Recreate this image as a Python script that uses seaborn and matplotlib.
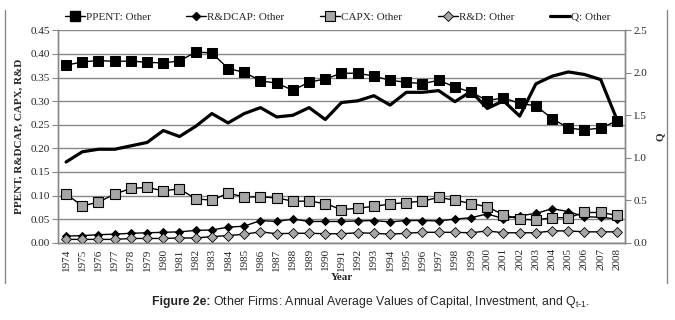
import numpy as np
import pandas as pd
import matplotlib
matplotlib.use("Agg")
import matplotlib.pyplot as plt
from matplotlib.lines import Line2D
from matplotlib.ticker import FixedLocator, NullFormatter
import seaborn as sns

# --- data ---
years = list(range(1974, 2009))

ppent = [0.376, 0.383, 0.386, 0.384, 0.385, 0.382, 0.381, 0.385, 0.404, 0.402,
         0.369, 0.361, 0.343, 0.338, 0.323, 0.340, 0.347, 0.359, 0.359, 0.353,
         0.344, 0.340, 0.337, 0.344, 0.330, 0.319, 0.301, 0.307, 0.295, 0.290,
         0.263, 0.243, 0.239, 0.243, 0.258]

rdcap = [0.014, 0.015, 0.017, 0.018, 0.020, 0.021, 0.022, 0.023, 0.026, 0.027,
         0.033, 0.035, 0.047, 0.045, 0.050, 0.045, 0.045, 0.045, 0.046, 0.047,
         0.044, 0.047, 0.047, 0.046, 0.050, 0.053, 0.061, 0.051, 0.057, 0.062,
         0.072, 0.066, 0.055, 0.054, 0.050]

capx = [0.103, 0.078, 0.086, 0.103, 0.115, 0.117, 0.110, 0.114, 0.093, 0.090,
        0.105, 0.097, 0.097, 0.095, 0.088, 0.088, 0.083, 0.070, 0.073, 0.077,
        0.082, 0.085, 0.088, 0.096, 0.090, 0.083, 0.076, 0.059, 0.050, 0.048,
        0.053, 0.053, 0.064, 0.064, 0.058]

rd = [0.007, 0.007, 0.007, 0.007, 0.009, 0.009, 0.009, 0.010, 0.010, 0.013,
      0.015, 0.018, 0.023, 0.019, 0.020, 0.020, 0.019, 0.019, 0.021, 0.020,
      0.018, 0.020, 0.022, 0.022, 0.022, 0.021, 0.025, 0.021, 0.021, 0.021,
      0.025, 0.025, 0.023, 0.023, 0.023]

q = [0.95, 1.07, 1.10, 1.10, 1.14, 1.18, 1.32, 1.25, 1.37, 1.52,
     1.41, 1.52, 1.59, 1.48, 1.50, 1.59, 1.45, 1.65, 1.67, 1.73,
     1.62, 1.77, 1.77, 1.79, 1.66, 1.78, 1.58, 1.67, 1.49, 1.87,
     1.96, 2.01, 1.98, 1.92, 1.45]

df = pd.DataFrame({"Year": years, "PPENT": ppent, "R&DCAP": rdcap,
                   "CAPX": capx, "R&D": rd, "Q": q})

# --- figure ---
sns.set_style("white")
plt.rcParams["font.family"] = ["Liberation Serif", "DejaVu Serif"]

fig = plt.figure(figsize=(6.75, 3.2), dpi=100)
ax = fig.add_axes([58 / 675, 1 - 242.7 / 320, (625 - 58) / 675, (242.7 - 30.3) / 320])
ax2 = ax.twinx()

grey = "#878787"
light = "#a6a6a6"

sns.lineplot(data=df, x="Year", y="PPENT", ax=ax, color="black", lw=1,
             marker="s", markersize=6.8, markerfacecolor="black",
             markeredgecolor="black", legend=False)
sns.lineplot(data=df, x="Year", y="R&DCAP", ax=ax, color="black", lw=1,
             marker="D", markersize=4.2, markerfacecolor="black",
             markeredgecolor="black", legend=False)
sns.lineplot(data=df, x="Year", y="CAPX", ax=ax, color="black", lw=1,
             marker="s", markersize=6.8, markerfacecolor=light,
             markeredgecolor="black", markeredgewidth=0.8, legend=False)
sns.lineplot(data=df, x="Year", y="R&D", ax=ax, color="black", lw=1,
             marker="D", markersize=4.8, markerfacecolor=light,
             markeredgecolor="black", markeredgewidth=0.6, legend=False)
sns.lineplot(data=df, x="Year", y="Q", ax=ax2, color="black", lw=2.3,
             legend=False)

# axes limits / ticks
ax.set_xlim(years[0] - 0.5, years[-1] + 0.5)
ax.set_ylim(0, 0.45)
ax2.set_ylim(0, 2.5)

left_ticks = np.arange(0, 0.451, 0.05)
right_ticks = np.arange(0, 2.51, 0.5)
ax.set_yticks(left_ticks)
ax.set_yticklabels([f"{v:.2f}" for v in left_ticks], fontsize=8)
ax2.set_yticks(right_ticks)
ax2.set_yticklabels([f"{v:.1f}" for v in right_ticks], fontsize=8)

ax.set_xticks(years)
ax.set_xticklabels([str(y) for y in years], rotation=90, fontsize=8)
ax.xaxis.set_minor_locator(FixedLocator([y - 0.5 for y in years] + [years[-1] + 0.5]))
ax.xaxis.set_minor_formatter(NullFormatter())
ax.tick_params(axis="x", which="major", length=0, pad=4)
ax.tick_params(axis="x", which="minor", length=4, color=grey, direction="out")
ax.tick_params(axis="y", length=4, color=grey, direction="out", pad=2, left=True)
ax2.tick_params(axis="y", length=4, color=grey, direction="out", pad=2, right=True)

ax.grid(axis="y", color=grey, lw=1)
ax.set_axisbelow(True)
for a in (ax, ax2):
    a.spines["top"].set_visible(False)
    for s in ("left", "right", "bottom"):
        a.spines[s].set_color(grey)
        a.spines[s].set_linewidth(1)

ax.set_xlabel("Year", fontsize=8, fontweight="bold", labelpad=2)
ax.set_ylabel("PPENT, R&DCAP, CAPX, R&D", fontsize=8, fontweight="bold", labelpad=5)
ax2.set_ylabel("Q", fontsize=8, fontweight="bold", labelpad=6)

# legend across the top
handles = [Line2D([], [], color="black", lw=1, marker="s", markersize=6.8, markerfacecolor="black"),
           Line2D([], [], color="black", lw=1, marker="D", markersize=4.2, markerfacecolor="black"),
           Line2D([], [], color="black", lw=1, marker="s", markersize=6.8,
                  markerfacecolor=light, markeredgecolor="black", markeredgewidth=0.8),
           Line2D([], [], color="black", lw=1, marker="D", markersize=4.8,
                  markerfacecolor=light, markeredgecolor="black", markeredgewidth=0.6),
           Line2D([], [], color="black", lw=2.3)]
labels = ["PPENT: Other", "R&DCAP: Other", "CAPX: Other", "R&D: Other", "Q: Other"]
fig.legend(handles, labels, loc="center", bbox_to_anchor=(0.5, 1 - 17 / 320),
           ncol=5, frameon=False, fontsize=8, handlelength=1.8,
           handletextpad=0.1, columnspacing=3.2)

# chart frame edges
fig.add_artist(Line2D([5 / 675, 5 / 675], [1 - 283 / 320, 1 - 10 / 320], color=grey, lw=1))
fig.add_artist(Line2D([667 / 675, 667 / 675], [1 - 283 / 320, 1 - 10 / 320], color=grey, lw=1))

# caption: bold part + regular part, centred together
cap_y = 1 - 302 / 320
sans = ["Liberation Sans", "DejaVu Sans"]
t1 = fig.text(0, cap_y, "Figure 2e:", ha="left", va="center", fontsize=8.8,
              fontweight="bold", family=sans)
t2 = fig.text(0, cap_y,
              r" Other Firms: Annual Average Values of Capital, Investment, and Q$_{\mathregular{t\text{-}1}}$.",
              ha="left", va="center", fontsize=8.8, family=sans)
r = fig.canvas.get_renderer()
w1 = t1.get_window_extent(r).width
w2 = t2.get_window_extent(r).width
x0 = 371 - (w1 + w2) / 2
t1.set_x(x0 / 675)
t2.set_x((x0 + w1) / 675)

fig.savefig("out.png", dpi=100)
